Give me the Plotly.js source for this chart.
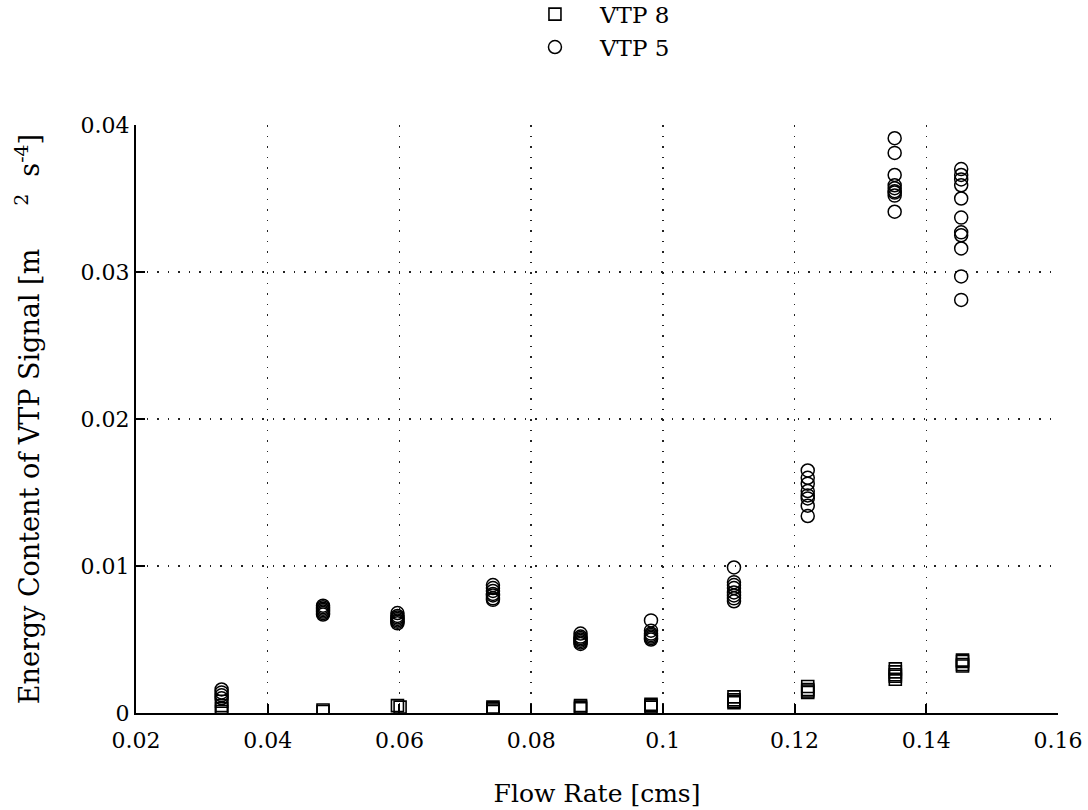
<!DOCTYPE html>
<html>
<head>
<meta charset="utf-8">
<script src="https://cdn.plot.ly/plotly-3.0.1.min.js"></script>
<style>html,body{margin:0;padding:0;background:#fff;}#chart{width:1088px;height:810px;}</style>
</head>
<body>
<div id="chart"></div>
<script>
// VTP 8 (squares)
const vtp8X = [
  0.0330, 0.0330, 0.0330, 0.0330,
  0.0484, 0.0484,
  0.0597, 0.0601,
  0.0742, 0.0742, 0.0742, 0.0742,
  0.0875, 0.0875, 0.0875,
  0.0982, 0.0982, 0.0982,
  0.1108, 0.1108, 0.1108, 0.1108,
  0.1220, 0.1220, 0.1220, 0.1220,
  0.1353, 0.1353, 0.1353, 0.1353, 0.1353,
  0.1455, 0.1455, 0.1455, 0.1455
];
const vtp8Y = [
  0.0008, 0.0005, 0.0003, 0.0001,
  0.0002, 0.0001,
  0.0005, 0.0004,
  0.0004, 0.0003, 0.0002, 0.0001,
  0.0005, 0.0004, 0.0003,
  0.0006, 0.0005, 0.0004,
  0.0011, 0.0009, 0.0008, 0.0007,
  0.0018, 0.0016, 0.0015, 0.0014,
  0.0030, 0.0028, 0.0026, 0.0025, 0.0023,
  0.0036, 0.0035, 0.0033, 0.0032
];
// VTP 5 (circles)
const vtp5X = [
  0.0330, 0.0330, 0.0330, 0.0330,
  0.0484, 0.0484, 0.0484, 0.0484, 0.0484, 0.0484, 0.0484,
  0.0597, 0.0597, 0.0597, 0.0597, 0.0597, 0.0597, 0.0597,
  0.0742, 0.0742, 0.0742, 0.0742, 0.0742, 0.0742, 0.0742,
  0.0875, 0.0875, 0.0875, 0.0875, 0.0875, 0.0875, 0.0875,
  0.0982, 0.0982, 0.0982, 0.0982, 0.0982, 0.0982, 0.0982,
  0.1108, 0.1108, 0.1108, 0.1108, 0.1108, 0.1108, 0.1108, 0.1108,
  0.1220, 0.1220, 0.1220, 0.1220, 0.1220, 0.1220, 0.1220, 0.1220,
  0.1352, 0.1352, 0.1352, 0.1352, 0.1352, 0.1352, 0.1352, 0.1352, 0.1352,
  0.1453, 0.1453, 0.1453, 0.1453, 0.1453, 0.1453, 0.1453, 0.1453, 0.1453, 0.1453, 0.1453
];
const vtp5Y = [
  0.0016, 0.0014, 0.0012, 0.0010,
  0.0073, 0.0072, 0.0071, 0.0070, 0.0069, 0.0068, 0.0067,
  0.0068, 0.0066, 0.0065, 0.0064, 0.0063, 0.0062, 0.0061,
  0.0087, 0.0085, 0.0083, 0.0081, 0.0080, 0.0078, 0.0077,
  0.0054, 0.0052, 0.0051, 0.0050, 0.0049, 0.0048, 0.0047,
  0.0063, 0.0056, 0.0054, 0.0053, 0.0052, 0.0051, 0.0050,
  0.0099, 0.0089, 0.0087, 0.0085, 0.0082, 0.0080, 0.0078, 0.0076,
  0.0165, 0.0160, 0.0156, 0.0151, 0.0148, 0.0146, 0.0141, 0.0134,
  0.0391, 0.0381, 0.0366, 0.0359, 0.0357, 0.0355, 0.0354, 0.0352, 0.0341,
  0.0370, 0.0366, 0.0363, 0.0359, 0.0350, 0.0337, 0.0327, 0.0325, 0.0316, 0.0297, 0.0281
];
const seriesNames = ["VTP 8", "VTP 5"];
const xTitle = "Flow Rate [cms]";
const yTitle = "Energy Content of VTP Signal [m &nbsp; &nbsp; <sup>2</sup> &nbsp;s<sup>-4</sup>]";

const FONT = "DejaVu Serif, Liberation Serif, serif";

const traces = [
  {
    x: vtp8X, y: vtp8Y, name: seriesNames[0], type: "scatter", mode: "markers",
    marker: {symbol: "square-open", size: 12, color: "#000", line: {width: 1.6, color: "#000"}}
  },
  {
    x: vtp5X, y: vtp5Y, name: seriesNames[1], type: "scatter", mode: "markers",
    marker: {symbol: "circle-open", size: 13, color: "#000", line: {width: 1.5, color: "#000"}}
  }
];

const axisCommon = {
  showline: true, linecolor: "#000", linewidth: 2, mirror: false,
  ticks: "inside", ticklen: 9, tickwidth: 2, tickcolor: "#000",
  showgrid: true, gridcolor: "#222", gridwidth: 1.5, griddash: "1.5px,9px",
  zeroline: false,
  tickfont: {family: FONT, size: 22, color: "#000"}
};

const layout = {
  width: 1088, height: 810,
  paper_bgcolor: "#fff", plot_bgcolor: "#fff",
  margin: {l: 136, r: 30, t: 125, b: 97, autoexpand: false},
  font: {family: FONT, color: "#000"},
  showlegend: true,
  legend: {
    x: 0.4056, y: 1.225, xanchor: "left", yanchor: "top",
    itemwidth: 80,
    font: {family: FONT, size: 23, color: "#000"},
    bgcolor: "rgba(0,0,0,0)", tracegroupgap: 0
  },
  xaxis: Object.assign({}, axisCommon, {
    range: [0.02, 0.16], dtick: 0.02, tick0: 0.02,
    ticklabelstandoff: 7,
    title: {text: xTitle, font: {family: FONT, size: 25, color: "#000"}, standoff: 32}
  }),
  yaxis: Object.assign({}, axisCommon, {
    range: [0, 0.04], dtick: 0.01, tick0: 0,
    title: {text: yTitle, font: {family: FONT, size: 27, color: "#000"}, standoff: 33}
  })
};

Plotly.newPlot("chart", traces, layout, {displayModeBar: false, staticPlot: true});
</script>
</body>
</html>
